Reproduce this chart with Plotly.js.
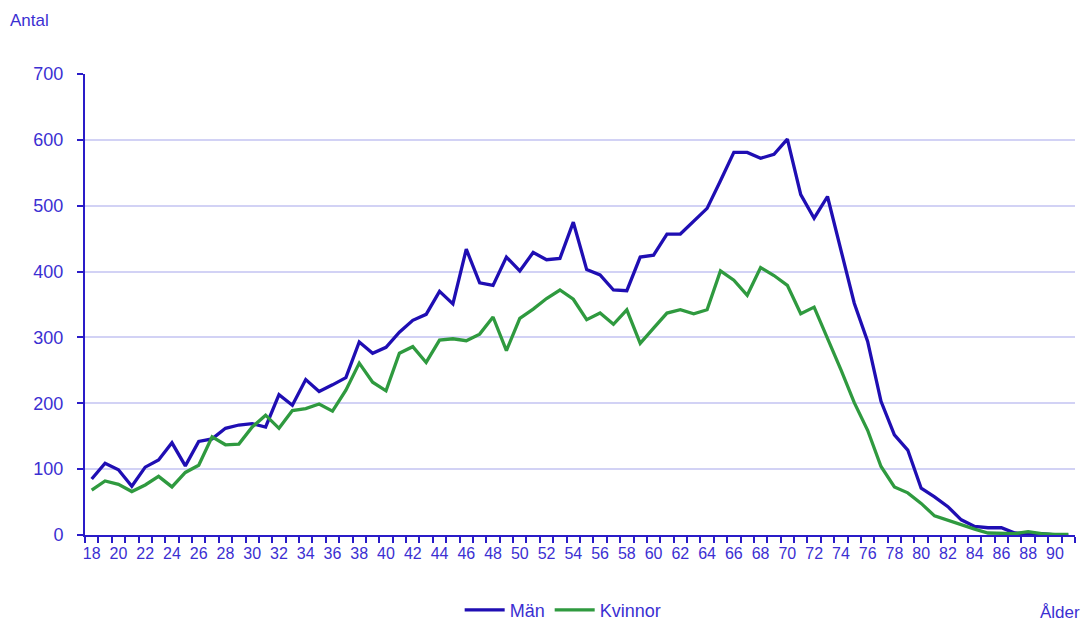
<!DOCTYPE html>
<html>
<head>
<meta charset="utf-8">
<script src="https://cdn.plot.ly/plotly-3.0.1.min.js"></script>
<style>
html,body{margin:0;padding:0;background:#fff;}
#chart{width:1082px;height:627px;}
</style>
</head>
<body>
<div id="chart"></div>
<script>
var ages = [18,19,20,21,22,23,24,25,26,27,28,29,30,31,32,33,34,35,36,37,38,39,40,41,42,43,44,45,46,47,48,49,50,51,52,53,54,55,56,57,58,59,60,61,62,63,64,65,66,67,68,69,70,71,72,73,74,75,76,77,78,79,80,81,82,83,84,85,86,87,88,89,90,91];
var man = [85,109,99,74,103,114,140,105,142,146,162,167,169,164,213,197,236,218,228,239,293,276,285,308,326,335,370,351,434,383,379,422,401,429,418,420,475,403,395,372,371,422,425,457,457,476,496,538,581,581,572,578,601,517,481,514,433,352,294,203,152,129,71,58,43,23,13,11,11,3,2,2,0,0];
var kvinnor = [68,82,77,66,76,89,73,95,106,149,137,138,164,182,162,189,192,199,188,220,261,232,219,276,286,262,296,298,295,305,331,280,329,343,359,372,358,327,337,320,342,291,314,337,342,336,342,401,387,364,406,394,379,336,346,299,251,201,159,104,73,64,48,29,22,15,9,3,2,2,5,2,1,1];
var tickLabels = ["18","20","22","24","26","28","30","32","34","36","38","40","42","44","46","48","50","52","54","56","58","60","62","64","66","68","70","72","74","76","78","80","82","84","86","88","90"];
var tickPos = tickLabels.map(Number);
var yTicks = [0,100,200,300,400,500,600,700];

var textBlue = '#3b2fd2';
var axisBlue = '#2a1cc8';
var font = 'Liberation Sans, Arial, sans-serif';

var traces = [
  {x: ages, y: man, type:'scatter', mode:'lines', name:'Män',
   line:{color:'#1f0eb3', width:3.3}},
  {x: ages, y: kvinnor, type:'scatter', mode:'lines', name:'Kvinnor',
   line:{color:'#2f9a3f', width:3.3}}
];

var layout = {
  width:1082, height:627,
  margin:{l:85, r:7, t:74, b:92, autoexpand:false},
  paper_bgcolor:'#fff', plot_bgcolor:'#fff',
  font:{family:font, color:textBlue, size:17},
  showlegend:true,
  legend:{orientation:'h', x:0.483, xanchor:'center', y:-0.163, yanchor:'middle',
          font:{size:18, color:textBlue}, bgcolor:'rgba(0,0,0,0)', itemwidth:40},
  xaxis:{range:[17.5,91.5], tickmode:'array', tickvals:tickPos, ticktext:tickLabels,
         ticks:'', showgrid:false, zeroline:false,
         showline:true, linecolor:axisBlue, linewidth:2,
         ticklabelstandoff:3,
         tickfont:{size:16, color:textBlue},
         minor:{tickmode:'linear', tick0:17.5, dtick:1, ticks:'outside', ticklen:6, tickwidth:2, tickcolor:axisBlue, showgrid:false}},
  yaxis:{range:[0,700], tickmode:'array', tickvals:yTicks,
         ticks:'outside', ticklen:6, tickwidth:2, tickcolor:axisBlue,
         showgrid:true, gridcolor:'#d2d2f5', gridwidth:2, zeroline:false,
         showline:true, linecolor:axisBlue, linewidth:2,
         ticklabelstandoff:10,
         tickfont:{size:18, color:textBlue}},
  annotations:[
    {text:'Antal', xref:'paper', yref:'paper', x:-0.0778, y:1.117, xanchor:'left', yanchor:'middle',
     showarrow:false, font:{size:17, color:textBlue}},
    {text:'Ålder', xref:'paper', yref:'paper', x:1.007, y:-0.169, xanchor:'right', yanchor:'middle',
     showarrow:false, font:{size:17, color:textBlue}}
  ]
};

Plotly.newPlot('chart', traces, layout, {displayModeBar:false, staticPlot:true});
</script>
</body>
</html>
